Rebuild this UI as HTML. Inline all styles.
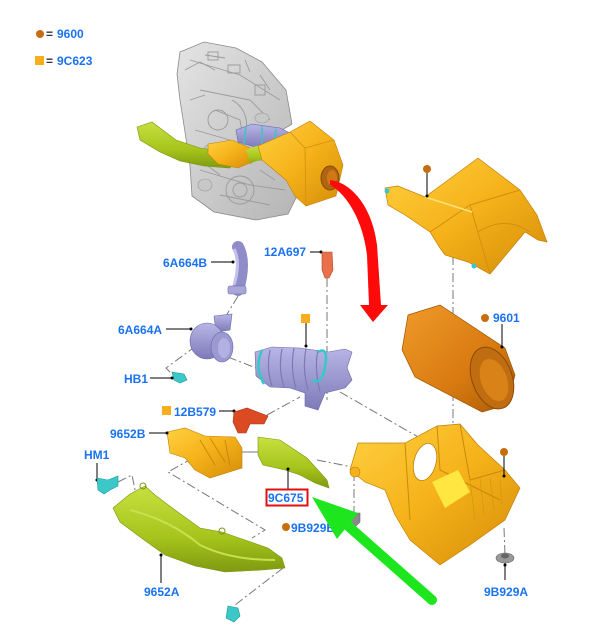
<!DOCTYPE html>
<html><head><meta charset="utf-8">
<style>
html,body{margin:0;padding:0;background:#fff;}
svg{display:block;}
text{font-family:"Liberation Sans",Arial,sans-serif;font-weight:bold;font-size:12px;fill:#1a72f0;}
</style></head>
<body>
<svg width="600" height="626" viewBox="0 0 600 626" xmlns="http://www.w3.org/2000/svg">
<defs>
<linearGradient id="yel" x1="0" y1="0" x2="1" y2="1"><stop offset="0" stop-color="#ffd040"/><stop offset="0.5" stop-color="#f5b21a"/><stop offset="1" stop-color="#d58c08"/></linearGradient>
<linearGradient id="grn" x1="0" y1="0" x2="0" y2="1"><stop offset="0" stop-color="#c8e040"/><stop offset="0.6" stop-color="#a6c41c"/><stop offset="1" stop-color="#7f9a10"/></linearGradient>
<linearGradient id="pur" x1="0" y1="0" x2="0" y2="1"><stop offset="0" stop-color="#b8b6e6"/><stop offset="1" stop-color="#7d7ab8"/></linearGradient>
<linearGradient id="org" x1="0" y1="0" x2="1" y2="1"><stop offset="0" stop-color="#f09a2a"/><stop offset="0.6" stop-color="#d87a10"/><stop offset="1" stop-color="#a85a08"/></linearGradient>
<linearGradient id="eng" x1="0" y1="0" x2="1" y2="1"><stop offset="0" stop-color="#e4e4e4"/><stop offset="1" stop-color="#b4b4b4"/></linearGradient>
</defs>

<!-- Legend -->
<circle cx="40" cy="34" r="4" fill="#c86c10"/>
<text x="46" y="38" style="fill:#333">=</text>
<text x="57" y="38">9600</text>
<rect x="35" y="56" width="9" height="9" fill="#f7ae1c"/>
<text x="46" y="65" style="fill:#333">=</text>
<text x="57" y="65">9C623</text>

<!-- Engine -->
<path d="M180,52 L204,42 L236,48 L262,62 L286,90 L292,124 L272,136 L300,190 L288,214 L256,220 L214,212 L192,196 L190,166 L185,132 L180,100 L177,74 Z" fill="url(#eng)" stroke="#8a8a8a" stroke-width="0.8"/>
<g stroke="#9a9a9a" stroke-width="0.9" fill="none">
<path d="M190,60 L240,75 L280,100"/><path d="M200,90 L250,100 L270,120"/><path d="M215,110 L240,120 L245,150"/>
<path d="M195,130 L230,140"/><path d="M200,170 L250,185 L285,190"/><path d="M220,195 L270,205"/>
<circle cx="218" cy="120" r="10"/><circle cx="240" cy="190" r="14"/><circle cx="240" cy="190" r="7"/><path d="M232,100 Q250,110 246,135"/>
<path d="M185,70 L200,62 L215,70 M205,55 L225,58 M245,60 L250,72 M260,75 L270,90 M190,100 L205,95 M195,150 L215,152 M200,160 L220,175 M260,170 L275,180 M265,150 L285,160"/>
<rect x="208" y="52" width="10" height="8"/><rect x="228" y="65" width="12" height="8"/><rect x="255" y="85" width="10" height="10"/>
</g>
<g fill="#c8c8c8" stroke="#999" stroke-width="0.6">
<ellipse cx="212" cy="150" rx="8" ry="6"/><ellipse cx="262" cy="118" rx="7" ry="5"/><ellipse cx="205" cy="185" rx="7" ry="6"/>
</g>
<!-- green duct top -->
<path d="M137,127 L152,122 L176,140 L200,148 L226,152 L236,158 L230,168 L204,166 L180,161 L160,152 L140,140 Z" fill="url(#grn)" stroke="#7a9410" stroke-width="0.6"/>
<!-- purple bellows top -->
<path d="M236,130 L252,124 L280,128 L292,134 L284,146 L258,148 L238,142 Z" fill="url(#pur)" stroke="#6a66a8" stroke-width="0.6"/>
<path d="M246,126 L244,145 M262,126 L262,147 M276,129 L274,146" stroke="#39c6c6" stroke-width="1.5"/>
<!-- yellow bits top -->
<path d="M208,144 L232,140 L250,148 L252,162 L238,168 L218,164 L208,154 Z" fill="url(#yel)" stroke="#c08008" stroke-width="0.6"/>
<path d="M246,150 Q265,140 282,150 L276,166 Q262,156 250,164 Z" fill="url(#grn)"/>
<path d="M258,146 L290,132 L310,121 L334,140 L343,165 L336,196 L306,206 L295,196 L286,180 L262,160 Z" fill="url(#yel)" stroke="#c08008" stroke-width="0.6"/>
<path d="M290,132 L305,148 L334,140 M305,148 L306,206" stroke="#d09010" stroke-width="0.8" fill="none"/>
<ellipse cx="330" cy="178" rx="9" ry="12" fill="#b06410" stroke="#8a4a08" stroke-width="1"/>
<ellipse cx="332" cy="178" rx="5" ry="8" fill="#d07818"/>

<!-- Red arrow -->
<path d="M330,180 C350,182 372,205 377,245 L381,305 L388,305 L373,322 L360,305 L369,305 L367,255 C363,222 348,195 330,185 Z" fill="#ff0a0a"/>

<!-- Dash-dot connector lines -->
<g stroke="#777" stroke-width="1" fill="none" stroke-dasharray="9,3,2,3">
<path d="M327,278 L327,400"/>
<path d="M453,256 L453,486"/>
<path d="M238,296 L226,316"/>
<path d="M228,357 L256,368"/>
<path d="M196,346 L166,368 L172,374"/>
<path d="M340,392 L420,438"/>
<path d="M267,415 L300,397"/>
<path d="M317,460 L378,472"/>
<path d="M193,458 L168,472 L265,530 L252,538"/>
<path d="M283,568 L235,605"/>
<path d="M504,528 L505,555"/>
<path d="M354,472 L354,515"/>
<path d="M118,482 L132,475 L135,490"/>
</g>
<path d="M240,452 L259,452" stroke="#777" stroke-width="1"/>

<!-- Top airbox cover -->
<path d="M385,188 L398,186 L425,197 L478,158 L520,190 L537,215 L547,242 L538,240 L525,232 L510,250 L490,274 L468,262 L445,255 L440,248 L430,232 L405,215 L388,205 Z" fill="url(#yel)" stroke="#c08008" stroke-width="0.7"/>
<path d="M430,232 L470,205 L520,190 M470,205 L490,274 M478,232 Q505,215 530,232" stroke="#d09010" stroke-width="1" fill="none"/>
<path d="M425,197 L472,212" stroke="#fde27a" stroke-width="1.5"/>
<circle cx="387" cy="191" r="2.5" fill="#35c8d0"/><circle cx="474" cy="266" r="2.5" fill="#35c8d0"/>
<circle cx="427" cy="169" r="4" fill="#c86c10"/><path d="M427,173 L427,196" stroke="#000" stroke-width="1"/><circle cx="427" cy="196" r="1.5"/>

<!-- Filter cylinder -->
<path d="M408,315 L440,305 L505,348 L515,375 L507,405 L482,412 L415,377 L402,350 Z" fill="url(#org)" stroke="#9a5206" stroke-width="0.7"/>
<ellipse cx="492" cy="378" rx="20" ry="32" transform="rotate(-20 492 378)" fill="#c06c10" stroke="#8a4a06" stroke-width="1"/>
<ellipse cx="494" cy="380" rx="13" ry="22" transform="rotate(-20 494 380)" fill="#d98218"/>
<circle cx="485" cy="318" r="4" fill="#c86c10"/>
<text x="493" y="322">9601</text>
<path d="M502,324 L502,347" stroke="#000" stroke-width="1"/><circle cx="502" cy="347" r="1.5"/>

<!-- Bottom airbox -->
<path d="M350,470 L358,443 L405,443 L437,426 L460,424 L478,445 L505,470 L520,488 L505,520 L470,545 L440,565 L410,540 L395,515 L385,490 L365,482 Z" fill="url(#yel)" stroke="#c08008" stroke-width="0.7"/>
<path d="M405,443 L410,520 M437,426 L440,470 M460,424 L470,480 L505,470 M440,470 L500,500" stroke="#c88a0c" stroke-width="1" fill="none"/>
<path d="M470,480 L475,520 M480,478 L484,515 M490,478 L494,510 M500,480 L502,505" stroke="#d09a10" stroke-width="0.8"/>
<ellipse cx="425" cy="462" rx="11" ry="19" transform="rotate(15 425 462)" fill="#fff" stroke="#c08008" stroke-width="0.8"/>
<path d="M432,482 L458,470 L470,492 L445,508 Z" fill="#ffe640"/>
<circle cx="355" cy="472" r="5" fill="#f5b21a" stroke="#c08008" stroke-width="0.6"/>
<circle cx="504" cy="452" r="4" fill="#c86c10"/><path d="M504,456 L504,476" stroke="#000" stroke-width="1"/><circle cx="504" cy="476" r="1.5"/>
<!-- grommets -->
<path d="M350,513 L360,513 L360,522 L355,527 L350,522 Z" fill="#8a8a8a" stroke="#666" stroke-width="0.6"/>
<ellipse cx="505" cy="558" rx="9" ry="5" fill="#999" stroke="#666" stroke-width="0.6"/>
<ellipse cx="505" cy="556" rx="4" ry="2.5" fill="#666"/>
<path d="M505,563 L505,580" stroke="#000" stroke-width="1"/><circle cx="505" cy="565" r="1.5"/>
<text x="484" y="596">9B929A</text>

<!-- 12A697 sensor -->
<text x="264" y="256">12A697</text>
<path d="M310,252 L321,252" stroke="#000" stroke-width="1"/><circle cx="321" cy="252" r="1.5"/>
<path d="M322,252 L332,252 L333,270 L329,278 L325,278 L322,270 Z" fill="#e8704a" stroke="#b04a28" stroke-width="0.6"/>

<!-- 6A664B hose -->
<path d="M238,247 Q246,262 238,290" stroke="#8f8cc8" stroke-width="12" fill="none" stroke-linecap="round"/>
<path d="M234,249 Q241,262 234,285" stroke="#c4c2ec" stroke-width="3" fill="none"/>
<rect x="228" y="286" width="18" height="8" rx="2" fill="#a9a7d8" stroke="#6a66a8" stroke-width="0.6"/>
<text x="163" y="267">6A664B</text>
<path d="M211,262 L233,262" stroke="#000" stroke-width="1"/><circle cx="233" cy="262" r="1.5"/>

<!-- 6A664A MAF -->
<path d="M214,316 L232,314 L230,330 L216,332 Z" fill="url(#pur)" stroke="#6a66a8" stroke-width="0.6"/>
<ellipse cx="207" cy="341" rx="17" ry="18" fill="url(#pur)" stroke="#6a66a8" stroke-width="0.6"/>
<ellipse cx="222" cy="347" rx="11" ry="15" fill="#9c99d2" stroke="#6a66a8" stroke-width="0.6"/>
<ellipse cx="224" cy="348" rx="6" ry="10" fill="#b3b1e2"/>
<text x="118" y="334">6A664A</text>
<path d="M166,329 L191,329" stroke="#000" stroke-width="1"/><circle cx="191" cy="329" r="1.5"/>

<!-- HB1 clip -->
<path d="M172,372 L184,374 L187,380 L180,383 L174,380 Z" fill="#3cc8c8" stroke="#1a9898" stroke-width="0.6"/>
<text x="124" y="383">HB1</text>
<path d="M150,378 L172,378" stroke="#000" stroke-width="1"/><circle cx="172" cy="378" r="1.5"/>

<!-- Bellows -->
<path d="M255,352 L272,347 L300,348 L328,352 L345,349 L352,352 L347,368 L352,380 L345,388 L325,393 L318,410 L305,406 L305,393 L290,388 L270,387 L256,376 Z" fill="url(#pur)" stroke="#6a66a8" stroke-width="0.6"/>
<g stroke="#7c79b6" stroke-width="1.2" fill="none">
<path d="M270,350 Q266,368 272,386"/><path d="M282,349 Q278,368 284,387"/><path d="M294,348 Q290,368 296,388"/><path d="M306,349 Q302,368 308,390"/><path d="M318,350 Q314,368 320,392"/>
</g>
<path d="M262,350 Q254,368 264,384" stroke="#36c8c8" stroke-width="2.5" fill="none"/>
<path d="M318,352 Q330,345 324,372 Q320,385 312,380" stroke="#36c8c8" stroke-width="2.5" fill="none"/>
<rect x="301" y="314" width="9" height="9" fill="#f7ae1c"/>
<path d="M306,323 L306,346" stroke="#000" stroke-width="1"/><circle cx="306" cy="346" r="1.5"/>

<!-- 12B579 -->
<rect x="162" y="406" width="9" height="9" fill="#f7ae1c"/>
<text x="174" y="416">12B579</text>
<path d="M219,411 L234,411" stroke="#000" stroke-width="1"/><circle cx="234" cy="411" r="1.5"/>
<path d="M234,412 L247,408 L268,416 L264,424 L250,424 L246,433 L238,433 L233,422 Z" fill="#dc4a24" stroke="#a83414" stroke-width="0.6"/>

<!-- 9652B -->
<path d="M167,432 L185,428 L205,436 L235,437 L242,448 L242,468 L210,478 L195,470 L185,458 L170,453 Z" fill="url(#yel)" stroke="#c08008" stroke-width="0.6"/>
<path d="M200,440 L215,465 M210,438 L225,462 M225,440 L230,466" stroke="#c88a0c" stroke-width="1"/>
<text x="110" y="438">9652B</text>
<path d="M149,433 L167,433" stroke="#000" stroke-width="1"/><circle cx="167" cy="433" r="1.5"/>

<!-- 9C675 -->
<path d="M258,437 L280,440 L307,458 L327,480 L329,488 L315,483 L300,475 L285,470 L263,465 L258,455 Z" fill="url(#grn)" stroke="#7a9410" stroke-width="0.6"/>
<path d="M288,469 L288,490" stroke="#000" stroke-width="1"/><circle cx="288" cy="469" r="1.5"/>
<rect x="266.5" y="489.5" width="41" height="16" fill="#fff" stroke="#e01010" stroke-width="2"/>
<text x="268" y="502">9C675</text>

<!-- HM1 -->
<text x="84" y="459">HM1</text>
<path d="M97,463 L97,480" stroke="#000" stroke-width="1"/><circle cx="97" cy="480" r="1.5"/>
<path d="M97,478 L108,480 L118,476 L118,486 L110,490 L104,494 L98,490 Z" fill="#3cc8c8" stroke="#1a9898" stroke-width="0.6"/>

<!-- 9652A duct -->
<path d="M113,508 L130,494 L145,486 L155,495 L175,510 L200,528 L222,532 L245,540 L268,548 L282,558 L285,568 L262,570 L225,572 L195,566 L165,555 L140,537 L120,522 Z" fill="url(#grn)" stroke="#7a9410" stroke-width="0.6"/>
<path d="M130,510 Q170,520 200,545 Q230,560 275,560" stroke="#c8e050" stroke-width="2" fill="none"/>
<circle cx="143" cy="486" r="3" fill="none" stroke="#7a9410" stroke-width="1"/>
<circle cx="222" cy="531" r="3" fill="none" stroke="#7a9410" stroke-width="1"/>
<path d="M161,555 L161,583" stroke="#000" stroke-width="1"/><circle cx="161" cy="555" r="1.5"/>
<text x="144" y="596">9652A</text>
<!-- bottom clip -->
<path d="M228,606 L238,608 L240,616 L234,622 L226,618 Z" fill="#3cc8c8" stroke="#1a9898" stroke-width="0.6"/>

<!-- 9B929B -->
<circle cx="286" cy="527" r="4" fill="#c86c10"/>
<text x="291" y="532">9B929B</text>

<!-- Green arrow -->
<path d="M347,525 L432,600" stroke="#1ee61e" stroke-width="10" stroke-linecap="round"/>
<path d="M312,497 L358,513 L337,539 Z" fill="#1ee61e"/>
</svg>
</body></html>
